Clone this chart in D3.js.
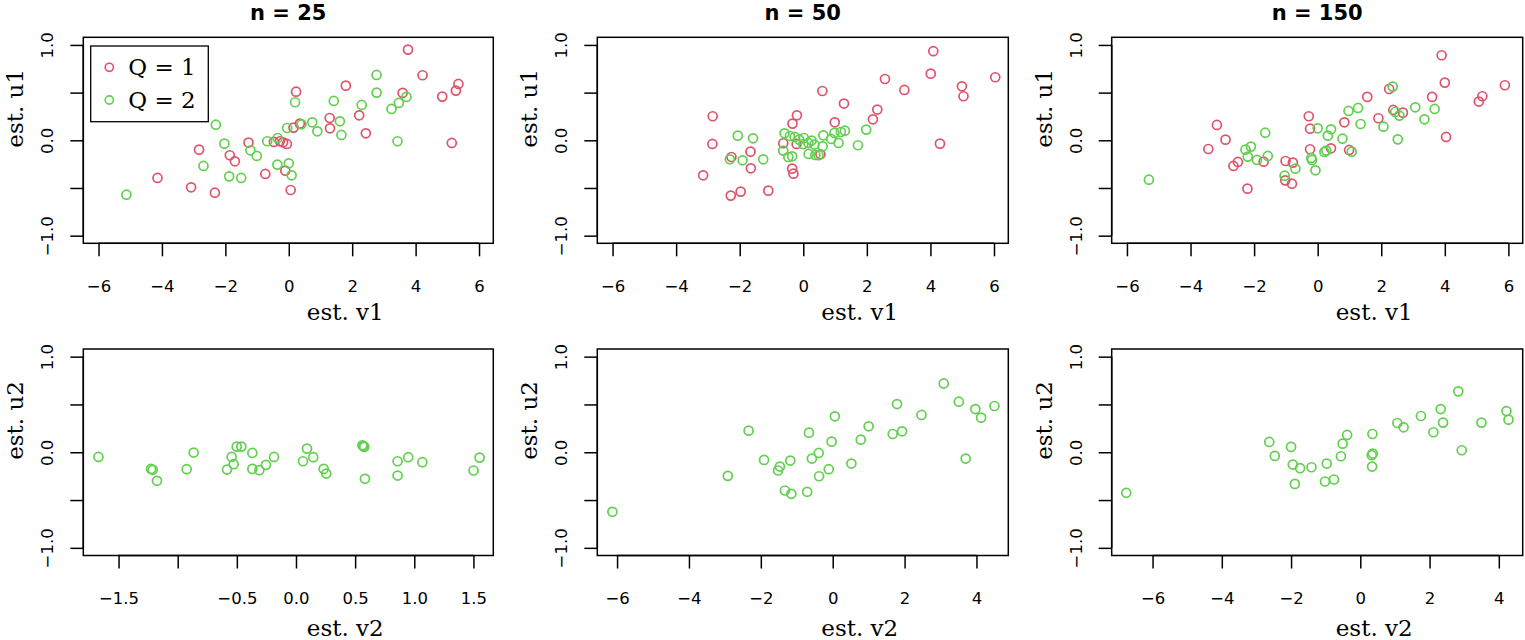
<!DOCTYPE html>
<html><head><meta charset="utf-8">
<script src="https://cdn.jsdelivr.net/npm/d3@7"></script>
<style>body{margin:0;background:#fff} svg{display:block}</style>
</head><body>
<svg id="c" width="1525" height="640"></svg>
<script>
// ---------- data ----------
const titles = ["n = 25", "n = 50", "n = 150"];
const groups = ["Q = 1", "Q = 2"];
const xLabelsTop = "est. v1", yLabelsTop = "est. u1";
const xLabelsBottom = "est. v2", yLabelsBottom = "est. u2";

const xTicksTop = [-6, -4, -2, 0, 2, 4, 6];
const xTickLabelsTop = ["−6", "−4", "−2", "0", "2", "4", "6"];
const xTicksB25 = [-1.5, -1, -0.5, 0, 0.5, 1, 1.5];
const xTickLabelsB25 = ["−1.5", "", "−0.5", "0.0", "0.5", "1.0", "1.5"];
const xTicksB = [-6, -4, -2, 0, 2, 4];
const xTickLabelsB = ["−6", "−4", "−2", "0", "2", "4"];
const yTicks = [-1, -0.5, 0, 0.5, 1];
const yTickLabels = ["−1.0", "", "0.0", "", "1.0"];

const xDomainTop = [-6.48, 6.45];
const xDomainB25 = [-1.798, 1.668];
const xDomainB50 = [-6.55, 4.886];
const xDomainB150 = [-7.18, 4.69];
const yDomain = [-1.08, 1.08];

// n = 25, est. v1 vs est. u1
const n25_Q1 = [[3.76,0.951],[4.22,0.682],[5.35,0.591],[5.27,0.521],[4.84,0.458],[3.59,0.497],[5.14,-0.028],
  [1.80,0.573],[0.23,0.510],[0.35,0.175],[0.15,0.133],[1.29,0.234],[1.30,0.126],[2.22,0.262],[2.43,0.073],
  [-1.27,-0.024],[-0.47,-0.017],[-0.28,-0.010],[-0.18,-0.021],[-0.06,-0.038],[-2.83,-0.098],[-1.86,-0.157],
  [-1.70,-0.220],[-0.74,-0.353],[-0.11,-0.318],[0.06,-0.521],[-4.14,-0.395],[-3.08,-0.493],[-2.33,-0.549]];
const n25_Q2 = [[-5.12,-0.570],[-2.30,0.164],[-2.03,-0.035],[-2.69,-0.269],[-1.88,-0.378],[-1.50,-0.395],
  [-1.21,-0.105],[-1.01,-0.164],[-0.68,-0.010],[-0.35,0.024],[-0.36,-0.255],[0.00,-0.241],[0.09,-0.367],
  [-0.05,0.129],[0.20,0.399],[0.40,0.168],[0.74,0.189],[0.90,0.094],[1.42,0.413],[1.61,0.199],[1.66,0.056],
  [2.30,0.371],[2.77,0.685],[2.77,0.500],[3.24,0.329],[3.47,0.392],[3.71,0.455],[3.43,-0.010]];
// n = 50
const n50_Q1 = [[4.09,0.934],[4.01,0.699],[4.99,0.566],[5.04,0.462],[6.04,0.661],[2.57,0.643],[3.18,0.528],
  [2.33,0.322],[2.19,0.220],[4.30,-0.035],[0.60,0.517],[1.28,0.385],[0.99,0.189],[-0.20,0.262],[-0.34,0.175],
  [-0.63,-0.031],[-0.21,-0.038],[0.54,-0.147],[-2.85,0.252],[-2.86,-0.038],[-2.26,-0.175],[-1.66,-0.119],
  [-1.65,-0.294],[-3.15,-0.367],[-0.35,-0.297],[-0.31,-0.350],[-2.28,-0.580],[-1.97,-0.538],[-1.10,-0.528]];
const n50_Q2 = [[-2.06,0.049],[-1.58,0.021],[-2.31,-0.199],[-1.91,-0.210],[-1.26,-0.199],[-0.59,0.073],
  [-0.42,0.045],[-0.27,0.035],[-0.13,0.007],[0.02,0.024],[0.16,-0.028],[0.26,-0.003],[0.35,-0.045],
  [0.61,-0.063],[0.63,0.052],[0.88,0.014],[0.98,0.077],[1.18,0.087],[1.31,0.101],[1.11,-0.028],[1.72,-0.052],
  [1.98,0.112],[-0.63,-0.108],[-0.47,-0.175],[-0.35,-0.168],[0.17,-0.143],[0.38,-0.154],[0.48,-0.157],[0.00,-0.040]];
// n = 150
const n150_Q1 = [[3.90,0.892],[4.00,0.605],[5.89,0.577],[5.18,0.462],[5.07,0.406],[3.60,0.455],[2.25,0.538],
  [4.04,0.035],[1.56,0.455],[1.91,0.231],[2.38,0.318],[2.68,0.290],[0.84,0.189],[-0.28,0.252],[-0.24,0.122],
  [-0.24,-0.094],[0.42,-0.084],[0.99,-0.101],[-3.17,0.161],[-2.90,0.007],[-3.44,-0.091],[-2.65,-0.269],
  [-2.51,-0.227],[-1.70,-0.224],[-1.01,-0.217],[-0.78,-0.234],[-1.02,-0.420],[-0.81,-0.455],[-2.21,-0.507]];
const n150_Q2 = [[-5.31,-0.413],[-2.27,-0.098],[-2.10,-0.066],[-2.20,-0.171],[-1.91,-0.206],[-1.57,-0.164],
  [-1.65,0.080],[-1.04,-0.371],[-0.70,-0.297],[-0.20,-0.185],[-0.18,-0.206],[-0.07,-0.315],[0.00,0.126],
  [0.32,0.049],[0.42,0.115],[0.21,-0.122],[0.27,-0.108],[0.78,0.017],[0.97,0.308],[1.27,0.339],[1.35,0.171],
  [1.07,-0.119],[2.07,0.143],[2.36,0.563],[2.44,0.297],[2.57,0.259],[2.52,0.010],[3.07,0.346],[3.36,0.220],[3.68,0.329]];
// bottom row: est. v2 vs est. u2 (Q = 2 only)
const n25_v2u2 = [[-1.670,-0.049],[-1.225,-0.174],[-1.211,-0.184],[-1.175,-0.299],[-0.924,-0.177],[-0.865,-0.003],
  [-0.583,-0.181],[-0.544,-0.049],[-0.527,-0.125],[-0.501,0.059],[-0.462,0.059],[-0.369,-0.007],[-0.369,-0.174],
  [-0.310,-0.188],[-0.254,-0.132],[-0.186,-0.049],[0.059,-0.094],[0.093,0.038],[0.146,-0.052],[0.234,-0.174],
  [0.256,-0.223],[0.561,0.073],[0.577,0.056],[0.570,0.065],[0.583,-0.278],[0.859,-0.094],[0.859,-0.244],
  [0.949,-0.052],[1.068,-0.104],[1.501,-0.191],[1.552,-0.056]];
const n50_v2u2 = [[-6.13,-0.623],[-2.92,-0.247],[-2.34,0.226],[-1.91,-0.080],[-1.52,-0.191],[-1.47,-0.150],
  [-1.18,-0.087],[-1.33,-0.400],[-1.15,-0.435],[-0.71,-0.414],[-0.66,0.205],[-0.58,-0.066],[-0.39,-0.007],
  [-0.38,-0.251],[-0.11,-0.177],[-0.03,0.111],[0.06,0.376],[0.52,-0.118],[0.78,0.132],[1.00,0.271],[1.67,0.191],
  [1.93,0.219],[1.79,0.504],[2.47,0.390],[3.09,0.720],[3.51,0.529],[3.97,0.452],[4.13,0.362],[4.50,0.484],[3.70,-0.066]];
const n150_v2u2 = [[-6.76,-0.424],[-2.63,0.108],[-2.47,-0.038],[-2.00,0.056],[-1.95,-0.129],[-1.74,-0.167],
  [-1.89,-0.331],[-1.41,-0.157],[-0.97,-0.118],[-1.02,-0.306],[-0.76,-0.285],[-0.56,-0.042],[-0.51,0.090],
  [-0.38,0.181],[0.35,0.191],[0.33,-0.031],[0.36,-0.014],[0.34,-0.150],[1.07,0.306],[1.25,0.261],[1.75,0.379],
  [2.11,0.209],[2.32,0.452],[2.39,0.310],[2.83,0.637],[2.93,0.021],[3.50,0.310],[4.22,0.431],[4.28,0.341]];

// ---------- layout / style ----------
const RED = "#DF536B", GREEN = "#61D04F";
const colX = [[83.3, 493.3], [597.3, 1008.3], [1111.7, 1522.7]];
const rowY = [[37.3, 243.3], [349, 555.5]];
const SANS = "'DejaVu Sans', sans-serif";
const SERIF = "'DejaVu Serif', serif";
const TICK = 13;

const panels = [
  {col:0,row:0,xd:xDomainTop,xt:xTicksTop,xl:xTickLabelsTop,series:[[n25_Q1,RED],[n25_Q2,GREEN]],xlab:xLabelsTop,ylab:yLabelsTop,title:titles[0],legend:true},
  {col:1,row:0,xd:xDomainTop,xt:xTicksTop,xl:xTickLabelsTop,series:[[n50_Q1,RED],[n50_Q2,GREEN]],xlab:xLabelsTop,ylab:yLabelsTop,title:titles[1]},
  {col:2,row:0,xd:xDomainTop,xt:xTicksTop,xl:xTickLabelsTop,series:[[n150_Q1,RED],[n150_Q2,GREEN]],xlab:xLabelsTop,ylab:yLabelsTop,title:titles[2]},
  {col:0,row:1,xd:xDomainB25,xt:xTicksB25,xl:xTickLabelsB25,series:[[n25_v2u2,GREEN]],xlab:xLabelsBottom,ylab:yLabelsBottom},
  {col:1,row:1,xd:xDomainB50,xt:xTicksB,xl:xTickLabelsB,series:[[n50_v2u2,GREEN]],xlab:xLabelsBottom,ylab:yLabelsBottom},
  {col:2,row:1,xd:xDomainB150,xt:xTicksB,xl:xTickLabelsB,series:[[n150_v2u2,GREEN]],xlab:xLabelsBottom,ylab:yLabelsBottom},
];

const svg = d3.select("#c");

panels.forEach(p => {
  const [x0, x1] = colX[p.col];
  const [y0, y1] = rowY[p.row];
  const x = d3.scaleLinear().domain(p.xd).range([x0, x1]);
  const y = d3.scaleLinear().domain(yDomain).range([y1, y0]);
  const g = svg.append("g");

  // points
  p.series.forEach(([data, color]) => {
    g.append("g").selectAll("circle").data(data).join("circle")
      .attr("cx", d => x(d[0])).attr("cy", d => y(d[1])).attr("r", 4.5)
      .attr("fill", "none").attr("stroke", color).attr("stroke-width", 1.7);
  });

  // box
  g.append("rect").attr("x", x0).attr("y", y0).attr("width", x1 - x0).attr("height", y1 - y0)
    .attr("fill", "none").attr("stroke", "#000").attr("stroke-width", 1.5);

  // x axis
  const xa = g.append("g").attr("transform", `translate(0,${y1})`)
    .call(d3.axisBottom(x).tickValues(p.xt).tickSize(TICK).tickFormat((d, i) => p.xl[i]));
  xa.select(".domain").remove();
  xa.append("line").attr("x1", x(p.xt[0])).attr("x2", x(p.xt[p.xt.length - 1]))
    .attr("stroke", "#000").attr("stroke-width", 1.5);
  xa.selectAll(".tick line").attr("stroke", "#000").attr("stroke-width", 1.5);
  xa.selectAll(".tick text").attr("font-family", SANS).attr("font-size", 16.5).attr("fill", "#000")
    .attr("dy", null).attr("y", 48.5);

  // y axis
  const ya = g.append("g").attr("transform", `translate(${x0},0)`)
    .call(d3.axisLeft(y).tickValues(yTicks).tickSize(TICK).tickFormat((d, i) => yTickLabels[i]));
  ya.select(".domain").remove();
  ya.append("line").attr("y1", y(yTicks[0])).attr("y2", y(yTicks[yTicks.length - 1]))
    .attr("stroke", "#000").attr("stroke-width", 1.5);
  ya.selectAll(".tick line").attr("stroke", "#000").attr("stroke-width", 1.5);
  ya.selectAll(".tick text").attr("font-family", SANS).attr("font-size", 16.5).attr("fill", "#000")
    .attr("transform", "rotate(-90)").attr("x", 0).attr("y", -30).attr("dy", null)
    .attr("text-anchor", "middle");

  // axis titles
  g.append("text").attr("x", (x0 + x1) / 2 + 57).attr("y", p.row === 0 ? y1 + 77 : 636)
    .attr("text-anchor", "middle").attr("font-family", SERIF).attr("font-size", 23).text(p.xlab);
  g.append("text").attr("transform", `translate(${x0 - 60},${y1 - 135}) rotate(-90)`)
    .attr("text-anchor", "middle").attr("font-family", SERIF).attr("font-size", 23).text(p.ylab);

  if (p.title) {
    g.append("text").attr("x", (x0 + x1) / 2).attr("y", 19.5).attr("text-anchor", "middle")
      .attr("font-family", SANS).attr("font-weight", "bold").attr("font-size", 21).text(p.title);
  }

  if (p.legend) {
    const lg = g.append("g");
    lg.append("rect").attr("x", 90.7).attr("y", 46).attr("width", 117.6).attr("height", 75.7)
      .attr("fill", "#fff").attr("stroke", "#000").attr("stroke-width", 1.3);
    groups.forEach((name, i) => {
      const cy = 67.3 + i * 32.7;
      lg.append("circle").attr("cx", 109.3).attr("cy", cy).attr("r", 4.1)
        .attr("fill", "none").attr("stroke", i === 0 ? RED : GREEN).attr("stroke-width", 1.6);
      lg.append("text").attr("x", 128.3).attr("y", cy + 8).attr("font-family", SERIF)
        .attr("font-size", 23).text(name);
    });
  }
});
</script>
</body></html>
